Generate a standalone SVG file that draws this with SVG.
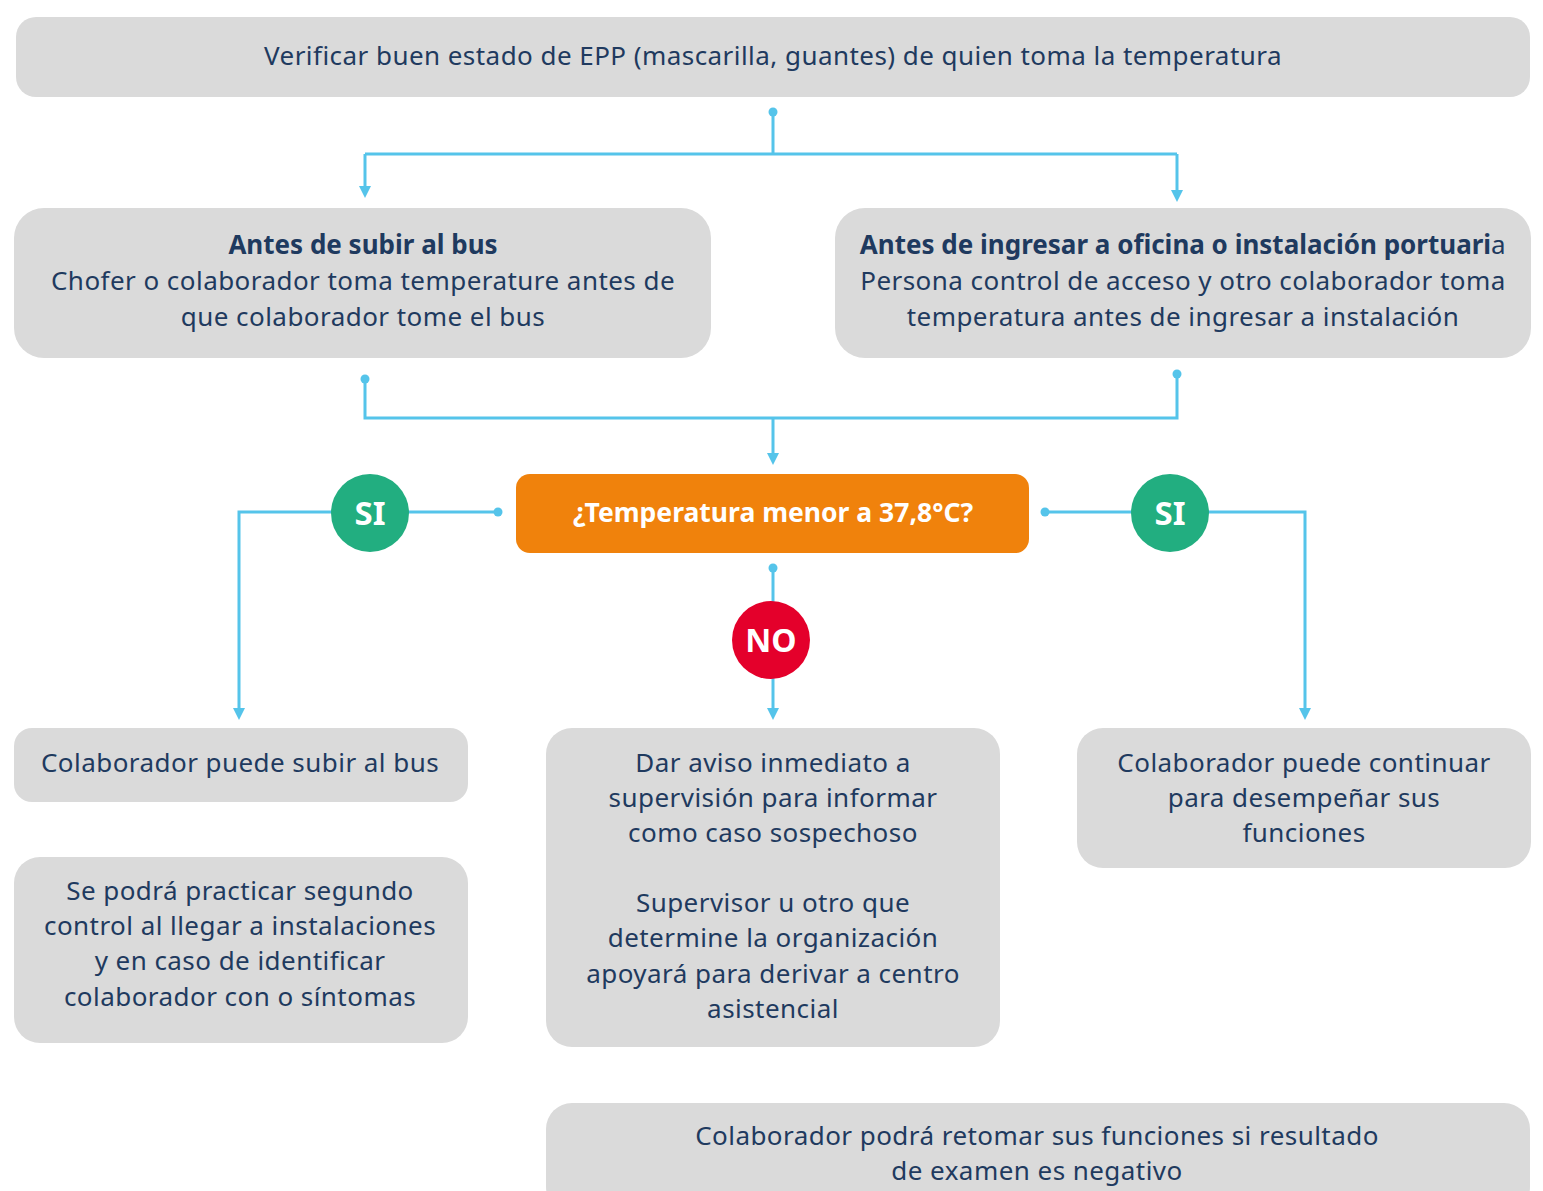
<svg xmlns="http://www.w3.org/2000/svg" width="1543" height="1191" viewBox="0 0 1543 1191">
<defs>
<style>
.box{fill:#dadada}
.t{font-family:"Noto Sans","DejaVu Sans",sans-serif;font-size:26px;letter-spacing:0.45px;fill:#1f3a5f;text-anchor:middle}
.b{font-weight:bold;letter-spacing:0}
.w{font-family:"Noto Sans","DejaVu Sans",sans-serif;font-weight:bold;fill:#fff;text-anchor:middle}
.ln{fill:none;stroke:#55c4ea;stroke-width:3}
.dot{fill:#55c4ea}
</style>
</defs>
<rect width="1543" height="1191" fill="#fff"/>
<g id="connectors">
<circle class="dot" cx="773" cy="112" r="4.5"/>
<path class="ln" d="M773,112 V154 M365,154 H1177"/>
<path class="ln" d="M365,154 V188"/>
<path d="M359,186 L371,186 L365,198 Z" class="dot"/>
<path class="ln" d="M1177,154 V192"/>
<path d="M1171,190 L1183,190 L1177,202 Z" class="dot"/>
<circle class="dot" cx="365" cy="379" r="4.5"/>
<circle class="dot" cx="1177" cy="374" r="4.5"/>
<path class="ln" d="M365,379 V418 H1177 V374 M773,418 V455"/>
<path d="M767,453 L779,453 L773,465 Z" class="dot"/>
<circle class="dot" cx="498" cy="512" r="4.5"/>
<path class="ln" d="M498,512 H239 V710"/>
<path d="M233,708 L245,708 L239,720 Z" class="dot"/>
<circle class="dot" cx="1045" cy="512" r="4.5"/>
<path class="ln" d="M1045,512 H1305 V710"/>
<path d="M1299,708 L1311,708 L1305,720 Z" class="dot"/>
<circle class="dot" cx="773" cy="568" r="4.5"/>
<path class="ln" d="M773,568 V710"/>
<path d="M767,708 L779,708 L773,720 Z" class="dot"/>
</g>
<g id="n-top">
<rect class="box" x="16" y="17" width="1514" height="80" rx="20"/>
<text class="t" x="773" y="65">Verificar buen estado de EPP (mascarilla, guantes) de quien toma la temperatura</text>
</g>
<g id="n-bus">
<rect class="box" x="14" y="208" width="697" height="150" rx="30"/>
<text class="t" x="363" y="254"><tspan class="b">Antes de subir al bus</tspan><tspan x="363" y="290">Chofer o colaborador toma temperature antes de</tspan><tspan x="363" y="326">que colaborador tome el bus</tspan></text>
</g>
<g id="n-oficina">
<rect class="box" x="835" y="208" width="696" height="150" rx="30"/>
<text class="t" x="1183" y="254"><tspan class="b">Antes de ingresar a oficina o instalación portuari</tspan>a<tspan x="1183" y="290">Persona control de acceso y otro colaborador toma</tspan><tspan x="1183" y="326">temperatura antes de ingresar a instalación</tspan></text>
</g>
<g id="n-temp">
<rect x="516" y="474" width="513" height="79" rx="14" fill="#f0820c"/>
<text class="w" x="773" y="522" font-size="26.5">¿Temperatura menor a 37,8°C?</text>
</g>
<g id="si-left">
<circle cx="370" cy="513" r="39" fill="#22ae80"/>
<text class="w" x="370" y="525" font-size="33">SI</text>
</g>
<g id="si-right">
<circle cx="1170" cy="513" r="39" fill="#22ae80"/>
<text class="w" x="1170" y="525" font-size="33">SI</text>
</g>
<g id="no">
<circle cx="771" cy="640" r="39" fill="#e4002b"/>
<text class="w" x="771" y="652" font-size="32">NO</text>
</g>
<g id="n-subir">
<rect class="box" x="14" y="728" width="454" height="74" rx="18"/>
<text class="t" x="240" y="772">Colaborador puede subir al bus</text>
</g>
<g id="n-segundo">
<rect class="box" x="14" y="857" width="454" height="186" rx="26"/>
<text class="t" x="240" y="900">Se podrá practicar segundo<tspan x="240" y="935">control al llegar a instalaciones</tspan><tspan x="240" y="970">y en caso de identificar</tspan><tspan x="240" y="1006">colaborador con o síntomas</tspan></text>
</g>
<g id="n-aviso">
<rect class="box" x="546" y="728" width="454" height="319" rx="26"/>
<text class="t" x="773" y="772">Dar aviso inmediato a<tspan x="773" y="807">supervisión para informar</tspan><tspan x="773" y="842">como caso sospechoso</tspan><tspan x="773" y="912">Supervisor u otro que</tspan><tspan x="773" y="947">determine la organización</tspan><tspan x="773" y="983">apoyará para derivar a centro</tspan><tspan x="773" y="1018">asistencial</tspan></text>
</g>
<g id="n-continuar">
<rect class="box" x="1077" y="728" width="454" height="140" rx="26"/>
<text class="t" x="1304" y="772">Colaborador puede continuar<tspan x="1304" y="807">para desempeñar sus</tspan><tspan x="1304" y="842">funciones</tspan></text>
</g>
<g id="n-retomar">
<rect class="box" x="546" y="1103" width="984" height="110" rx="26"/>
<text class="t" x="1037" y="1145">Colaborador podrá retomar sus funciones si resultado<tspan x="1037" y="1180">de examen es negativo</tspan></text>
</g>
</svg>
